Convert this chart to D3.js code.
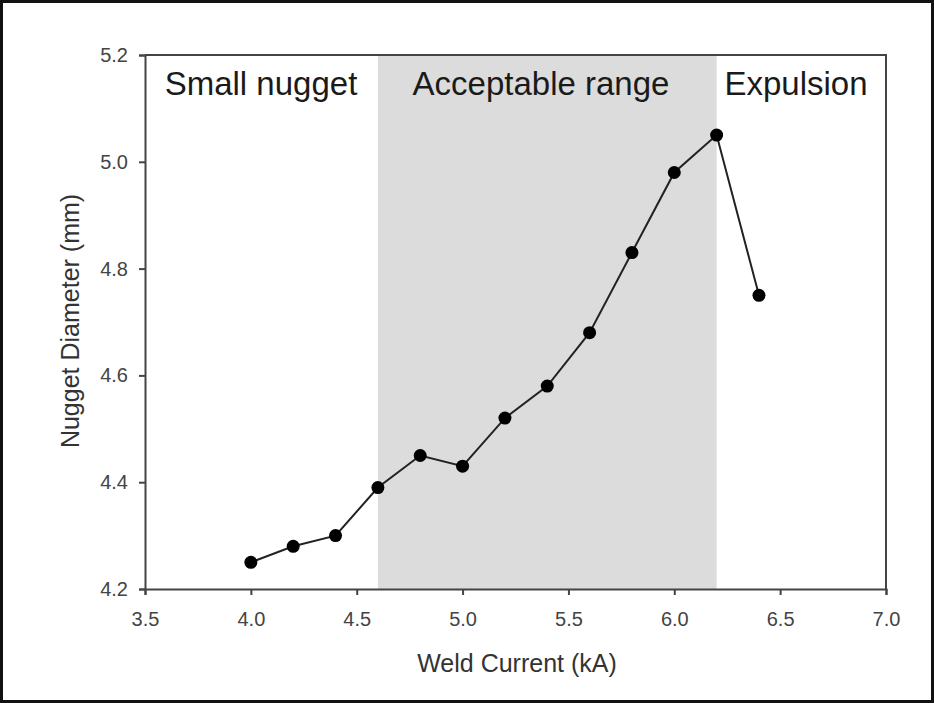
<!DOCTYPE html>
<html>
<head>
<meta charset="utf-8">
<script src="https://cdn.jsdelivr.net/npm/d3@7"></script>
<style>
  body { margin: 0; background: #fff; }
  svg text { font-family: "Liberation Sans", Arial, sans-serif; }
</style>
</head>
<body>
<div id="chart"></div>
<script>
// weld current (kA) vs nugget diameter (mm)
const current = [4.0, 4.2, 4.4, 4.6, 4.8, 5.0, 5.2, 5.4, 5.6, 5.8, 6.0, 6.2, 6.4];
const diameter = [4.25, 4.28, 4.30, 4.39, 4.45, 4.43, 4.52, 4.58, 4.68, 4.83, 4.98, 5.05, 4.75];
const xTicks = [3.5, 4.0, 4.5, 5.0, 5.5, 6.0, 6.5, 7.0];
const yTicks = [4.2, 4.4, 4.6, 4.8, 5.0, 5.2];
const zones = [
  { label: 'Small nugget', from: 3.5, to: 4.6, shaded: false },
  { label: 'Acceptable range', from: 4.6, to: 6.2, shaded: true },
  { label: 'Expulsion', from: 6.2, to: 7.0, shaded: false }
];

const W = 934, H = 703;
const pLeft = 145, pRight = 886, pTop = 55, pBottom = 589;

const svg = d3.select('#chart')
              .append('svg')
              .attr('width', W)
              .attr('height', H);

// outer frame
svg.append('rect')
   .attr('x', 1.5).attr('y', 1.5)
   .attr('width', W - 3).attr('height', H - 3)
   .attr('fill', 'none')
   .attr('stroke', '#111')
   .attr('stroke-width', 3);

const x = d3.scaleLinear().domain([3.5, 7.0]).range([pLeft, pRight]);
const y = d3.scaleLinear().domain([4.2, 5.2]).range([pBottom, pTop]);

// shaded acceptable band
svg.selectAll('rect.zone')
   .data(zones.filter(z => z.shaded))
   .enter()
   .append('rect')
   .attr('class', 'zone')
   .attr('x', d => x(d.from))
   .attr('width', d => x(d.to) - x(d.from))
   .attr('y', pTop)
   .attr('height', pBottom - pTop)
   .attr('fill', '#dcdcdc');

// zone labels
const zoneX = { 'Small nugget': 261, 'Acceptable range': 541, 'Expulsion': 796 };
svg.selectAll('text.zone-label')
   .data(zones)
   .enter()
   .append('text')
   .attr('class', 'zone-label')
   .attr('x', d => zoneX[d.label])
   .attr('y', 95)
   .attr('text-anchor', 'middle')
   .attr('font-size', 33)
   .attr('fill', '#1a1a1a')
   .text(d => d.label);

// plot box top & right
svg.append('path')
   .attr('d', `M${pLeft},${pTop}H${pRight}V${pBottom}`)
   .attr('fill', 'none')
   .attr('stroke', '#444')
   .attr('stroke-width', 2);

const axisX = d3.axisBottom(x)
                .tickValues(xTicks)
                .tickFormat(d3.format('.1f'))
                .tickSize(6)
                .tickPadding(17);

const gx = svg.append('g')
              .attr('transform', `translate(0, ${pBottom})`)
              .call(axisX);

const axisY = d3.axisLeft(y)
                .tickValues(yTicks)
                .tickFormat(d3.format('.1f'))
                .tickSize(6)
                .tickPadding(11);

const gy = svg.append('g')
              .attr('transform', `translate(${pLeft}, 0)`)
              .call(axisY);

[gx, gy].forEach(g => {
  g.select('.domain').attr('stroke', '#444').attr('stroke-width', 2);
  g.selectAll('.tick line').attr('stroke', '#444').attr('stroke-width', 2);
  g.selectAll('.tick text')
   .attr('font-size', 20)
   .attr('fill', '#444')
   .style('font-family', '"Liberation Sans", Arial, sans-serif');
});

// line and points
const line = d3.line()
               .x((d, i) => x(current[i]))
               .y(d => y(d));

svg.append('path')
   .datum(diameter)
   .attr('d', line)
   .attr('fill', 'none')
   .attr('stroke', '#222')
   .attr('stroke-width', 2);

svg.selectAll('circle.pt')
   .data(diameter)
   .enter()
   .append('circle')
   .attr('class', 'pt')
   .attr('cx', (d, i) => x(current[i]))
   .attr('cy', d => y(d))
   .attr('r', 6.5)
   .attr('fill', '#000');

// axis titles
svg.append('text')
   .attr('x', 517)
   .attr('y', 672)
   .attr('text-anchor', 'middle')
   .attr('font-size', 25)
   .attr('fill', '#333')
   .text('Weld Current (kA)');

svg.append('text')
   .attr('transform', `translate(79, 321) rotate(-90)`)
   .attr('text-anchor', 'middle')
   .attr('font-size', 25)
   .attr('fill', '#333')
   .text('Nugget Diameter (mm)');
</script>
</body>
</html>
